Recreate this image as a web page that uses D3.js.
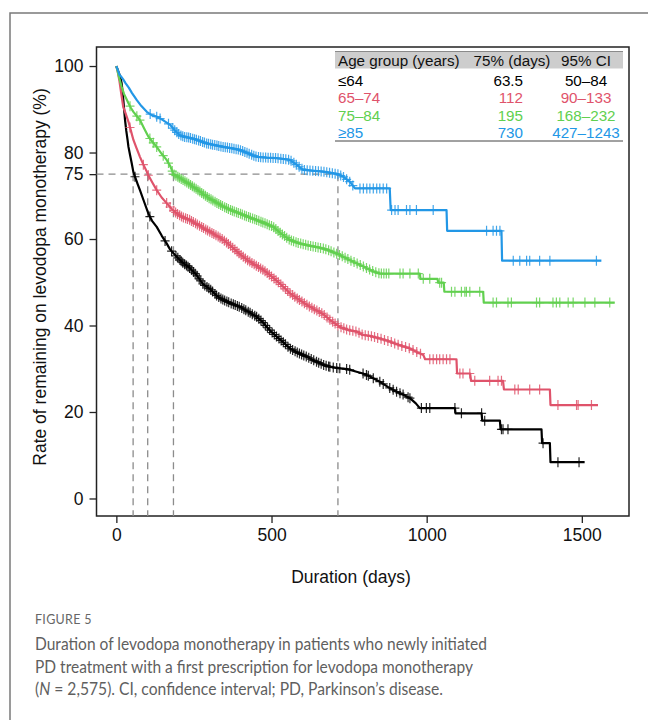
<!DOCTYPE html>
<html>
<head>
<meta charset="utf-8">
<script src="https://cdn.jsdelivr.net/npm/d3@7"></script>
<style>
  html, body { margin: 0; padding: 0; background: #fff; }
  svg { display: block; }
</style>
</head>
<body>
<svg id="chart" width="648" height="720"></svg>
<script>
// ---------------- DATA ----------------
const groups = ["≤64", "65–74", "75–84", "≥85"];
const groupColors = ["#000000", "#DF536B", "#61D04F", "#2297E6"];
const days75 = ["63.5", "112", "195", "730"];
const ci95 = ["50–84", "90–133", "168–232", "427–1243"];
const tableHeader = ["Age group (years)", "75% (days)", "95% CI"];

const xTicks = [0, 500, 1000, 1500];
const yTicks = [0, 20, 40, 60, 75, 80, 100];
// where each curve crosses 75% (as drawn)
const cross75 = [54, 101, 184, 714];

// KM curve knots [day, %]
const curveLe64 = [[0,100],[5,99],[10,98],[14,97],[17,96],[20,94],[22.5,92.1],[25,90],[28,87.5],[32,85],[36,83],[39,81.3],[44,79.5],[49.5,77.5],[55,75.4],[60,74.4],[68,72.8],[76,71.3],[90,68.5],[103,65.9],[115,64.2],[130,62.8],[146,60.8],[162,59],[173,57.6],[184,56.7],[200,55.5],[216,54.4],[238,53.2],[259,51.6],[280,49.5],[302,48.4],[325,46.8],[345,45.9],[370,45.1],[398,44.3],[425,43.2],[452,42],[470,40.9],[484,39.7],[500,38.5],[517,37.4],[540,36],[559,34.7],[585,33.7],[613,32.8],[640,31.8],[667,30.9],[690,30.4],[720,30.1],[745,29.9],[774,29.3],[795,28.9],[817,28.2],[849,27],[875,25.8],[903,24.7],[925,24],[946,23.2],[965,22],[978,20.9],[1091,20.9],[1093,19.7],[1177,19.7],[1179,18],[1236,18],[1238,16],[1370,16],[1372,12.8],[1397,12.8],[1399,8.4],[1509,8.4]];
const curve65 = [[0,100],[5,98.5],[10,96.5],[15,94],[22,90.6],[30,89],[39,87.1],[47,85],[55,82.9],[65,81],[76,79],[87,77.2],[98,75.6],[101,75],[115,73.2],[130,71.3],[146,69.6],[162,68.3],[178,67],[195,65.9],[215,65],[237,64.4],[265,63.2],[291,62.1],[318,61],[345,59.8],[372,58.2],[398,56.5],[425,55],[452,53.8],[480,52.5],[506,51],[530,49.5],[559,47.5],[592,45.8],[620,44.5],[645,43.5],[667,42.6],[690,41.2],[720,39.7],[745,39],[774,38.6],[795,37.8],[817,37.6],[849,37],[881,36.3],[910,35.5],[946,34.7],[970,33.8],[989,33.2],[995,32.2],[1096,32.2],[1098,28.9],[1140,28.9],[1143,27.2],[1246,27.2],[1249,25.2],[1397,25.2],[1399,21.6],[1552,21.6]];
const curve75 = [[0,100],[5,98.5],[10,97],[17,95.2],[25,93.5],[39,91.4],[47,90.3],[55,89.4],[65,88.5],[76,87.5],[90,85.5],[103,83.7],[116,82.5],[130,81.3],[146,79.7],[162,78.3],[174,76.8],[184,75],[200,74.3],[218,73.5],[237,72.6],[265,71.2],[291,69.8],[318,68.6],[345,67.5],[372,66.6],[398,65.9],[425,65.1],[452,64.4],[480,63.6],[506,62.8],[530,61.3],[559,59.8],[585,59.1],[613,58.6],[640,58.2],[667,57.8],[688,57.3],[720,56.3],[753,55.1],[774,54.4],[800,53.5],[825,52.6],[849,52],[978,52],[980,50.8],[1035,50.8],[1037,49.9],[1055,49.9],[1057,47.8],[1182,47.8],[1184,45.3],[1606,45.3]];
const curve85 = [[0,100],[5,99],[10,98],[16,97.5],[22,96.9],[30,96],[40,95],[50,93.8],[66,92.1],[80,90.8],[98,89.4],[115,88.6],[130,88.3],[150,87.5],[173,86.4],[190,85],[205,84],[220,83.6],[237,83.4],[265,82.8],[291,82.1],[318,81.7],[344,81.3],[370,81],[398,80.6],[425,79.8],[452,79],[485,78.8],[517,78.7],[540,78.5],[559,78.3],[580,77.2],[602,76],[630,75.8],[666,75.6],[690,75.3],[714,75],[731,74.4],[753,73.2],[769,71.7],[881,71.7],[884,66.7],[1064,66.7],[1066,61.9],[1241,61.9],[1243,55],[1563,55]];

// censoring times (days)
const censLe64 = [60,108,157,178,192,198,205,209,214,220,226,231,236,243,249,254,260,267,272,279,285,292,298,304,310,318,323,330,337,343,349,356,362,370,377,383,390,396,404,411,417,425,431,438,446,452,459,466,473,480,487,494,502,509,516,524,531,538,545,553,561,568,576,583,590,597,604,612,620,628,636,645,652,660,668,676,684,688,699,710,720,742,752,795,806,812,828,849,860,881,892,903,914,924,940,946,983,999,1010,1091,1112,1177,1187,1241,1246,1262,1375,1423,1491];
const cens65 = [44,87,103,130,162,173,185,191,197,204,210,216,223,229,236,242,248,255,261,268,275,281,288,294,301,308,314,321,328,334,341,348,355,361,368,375,382,389,395,402,409,416,423,430,437,444,451,458,465,472,479,486,493,500,508,515,522,530,537,545,552,560,568,575,583,590,598,606,614,622,630,638,646,654,662,670,679,688,697,705,714,724,733,742,752,762,772,782,792,802,812,822,832,842,853,864,875,886,897,908,920,932,944,956,968,980,1010,1021,1032,1042,1053,1064,1075,1107,1117,1139,1155,1203,1230,1241,1284,1295,1332,1364,1423,1483,1488,1531];
const cens75 = [44,66,76,108,119,130,151,168,180,186,192,198,203,209,215,221,227,233,239,245,251,257,263,269,275,281,287,293,299,305,311,318,324,330,336,342,349,355,361,368,374,380,387,393,400,406,413,419,426,432,439,446,452,459,466,472,479,486,493,500,507,514,521,528,535,542,549,557,564,571,579,586,594,602,610,618,626,634,642,650,658,667,675,684,692,701,710,719,728,737,746,756,766,776,786,796,806,816,826,836,846,854,862,870,878,914,924,946,973,989,1010,1042,1048,1080,1091,1112,1123,1128,1139,1171,1214,1225,1262,1273,1354,1364,1407,1418,1429,1456,1472,1510,1542,1590];
const cens85 = [109,130,141,168,182,188,195,201,208,214,220,227,233,239,246,252,258,265,271,278,284,291,297,304,310,317,324,330,337,344,351,358,365,372,379,386,393,400,407,414,421,428,436,443,450,458,465,473,481,489,497,505,513,521,530,538,546,555,563,572,580,589,598,606,615,624,633,642,651,660,669,678,687,696,705,714,723,732,742,752,762,785,796,807,817,828,839,849,860,871,887,898,908,935,946,967,1021,1193,1214,1225,1236,1279,1300,1322,1332,1364,1397,1547];

const curves = [curveLe64, curve65, curve75, curve85];
const censors = [censLe64, cens65, cens75, cens85];

const yTitle = "Rate of remaining on levodopa monotherapy (%)";
const xTitle = "Duration (days)";
const figLabel = "FIGURE 5";

// ---------------- DRAW ----------------
const svg = d3.select("#chart");
const AX = "'Liberation Sans', Arial, Helvetica, sans-serif";

// outer figure frame (top and left edges)
svg.append("path").attr("d", "M10,720 L10,13 L648,13")
  .attr("fill", "none").attr("stroke", "#7a7a7a").attr("stroke-width", 1.5);

const box = { l: 96.5, r: 629, t: 47, b: 516 };
const x = d3.scaleLinear().domain([-64, 1652]).range([box.l, box.r]);
const y = d3.scaleLinear().domain([-4.05, 104.4]).range([box.b, box.t]);

// axes
const xAxis = svg.append("g").attr("transform", `translate(0,${box.b})`)
  .call(d3.axisBottom(x).tickValues(xTicks).tickSize(7).tickPadding(4).tickFormat(d3.format("d")));
const yAxis = svg.append("g").attr("transform", `translate(${box.l},0)`)
  .call(d3.axisLeft(y).tickValues(yTicks).tickSize(7).tickPadding(6).tickFormat(d3.format("d")));
[xAxis, yAxis].forEach(g => {
  g.select(".domain").remove();
  g.selectAll(".tick line").attr("stroke", "#222").attr("stroke-width", 1.3);
  g.selectAll(".tick text").attr("fill", "#111").style("font-family", AX).style("font-size", "17.5px");
});
xAxis.selectAll(".tick text").attr("dy", "0.78em");

// plot box
svg.append("rect").attr("x", box.l).attr("y", box.t)
  .attr("width", box.r - box.l).attr("height", box.b - box.t)
  .attr("fill", "none").attr("stroke", "#222").attr("stroke-width", 1.5);

// axis titles
svg.append("text").attr("x", 351).attr("y", 583).attr("text-anchor", "middle")
  .style("font-family", AX).style("font-size", "17.5px").attr("fill", "#111").text(xTitle);
svg.append("text").attr("transform", "translate(46,277) rotate(-90)").attr("text-anchor", "middle")
  .style("font-family", AX).style("font-size", "17.5px").attr("fill", "#111").text(yTitle);

// reference dashed lines at 75%
const dashG = svg.append("g").attr("stroke", "#8c8c8c").attr("stroke-width", 1.3)
  .attr("stroke-dasharray", "7,5").attr("fill", "none");
dashG.append("line").attr("x1", box.l).attr("x2", x(d3.max(cross75)))
  .attr("y1", y(75)).attr("y2", y(75));
dashG.selectAll("line.v").data(cross75).enter().append("line").attr("class", "v")
  .attr("x1", d => x(d)).attr("x2", d => x(d)).attr("y1", y(75)).attr("y2", box.b);

// curves
const line = d3.line().x(d => x(d[0])).y(d => y(d[1])).curve(d3.curveLinear);
const bis = d3.bisector(d => d[0]).right;
function survAt(k, t) {
  const i = bis(k, t);
  if (i <= 0) return k[0][1];
  if (i >= k.length) return k[k.length - 1][1];
  const a = k[i - 1], b = k[i];
  return a[1] + (b[1] - a[1]) * (t - a[0]) / (b[0] - a[0]);
}

curves.forEach((k, gi) => {
  const col = groupColors[gi];
  const g = svg.append("g");
  g.append("path").datum(k).attr("d", line).attr("fill", "none")
    .attr("stroke", col).attr("stroke-width", 2.2).attr("stroke-linejoin", "round");
  g.selectAll("path.c").data(censors[gi]).enter().append("path").attr("class", "c")
    .attr("d", t => {
      const px = x(t), py = y(survAt(k, t));
      return `M${px - 4.5},${py}H${px + 4.5}M${px},${py - 5}V${py + 5}`;
    })
    .attr("stroke", col).attr("stroke-width", 1.2).attr("fill", "none").attr("opacity", 0.85);
});

// legend table
const tb = svg.append("g").style("font-family", AX).style("font-size", "15.2px");
tb.append("rect").attr("x", 335).attr("y", 51.5).attr("width", 288).attr("height", 17)
  .attr("fill", "#cdcdcd");
tb.append("line").attr("x1", 335).attr("x2", 623).attr("y1", 51.5).attr("y2", 51.5)
  .attr("stroke", "#8a8a8a").attr("stroke-width", 1);
tb.append("line").attr("x1", 335).attr("x2", 623).attr("y1", 141).attr("y2", 141)
  .attr("stroke", "#444").attr("stroke-width", 1);
tb.append("text").attr("x", 338).attr("y", 65.5).attr("fill", "#111").text(tableHeader[0]);
tb.append("text").attr("x", 512).attr("y", 65.5).attr("text-anchor", "middle").attr("fill", "#111").text(tableHeader[1]);
tb.append("text").attr("x", 586).attr("y", 65.5).attr("text-anchor", "middle").attr("fill", "#111").text(tableHeader[2]);
const rowY = [85.5, 103, 120.5, 137.5];
groups.forEach((gname, i) => {
  const col = groupColors[i];
  tb.append("text").attr("x", 338).attr("y", rowY[i]).attr("fill", col).text(gname);
  tb.append("text").attr("x", 523).attr("y", rowY[i]).attr("text-anchor", "end").attr("fill", col).text(days75[i]);
  tb.append("text").attr("x", 586).attr("y", rowY[i]).attr("text-anchor", "middle").attr("fill", col).text(ci95[i]);
});

// caption
const CAP = "Lato, 'Open Sans', 'Noto Sans', sans-serif";
svg.append("text").attr("x", 35).attr("y", 624).attr("fill", "#666")
  .style("font-family", CAP).style("font-size", "12.5px").style("letter-spacing", "0.3px").text(figLabel);
const capLines = [
  { y: 650, w: 452, parts: [["Duration of levodopa monotherapy in patients who newly initiated", false]] },
  { y: 672.5, w: 438, parts: [["PD treatment with a first prescription for levodopa monotherapy", false]] },
  { y: 695, w: 408, parts: [["(", false], ["N", true], [" = 2,575). CI, confidence interval; PD, Parkinson’s disease.", false]] }
];
capLines.forEach(l => {
  const t = svg.append("text").attr("x", 35).attr("y", l.y).attr("fill", "#5f5f5f")
    .style("font-family", CAP).style("font-size", "16.5px")
    .attr("textLength", l.w).attr("lengthAdjust", "spacingAndGlyphs");
  l.parts.forEach(p => t.append("tspan").style("font-style", p[1] ? "italic" : "normal").text(p[0]));
});
</script>
</body>
</html>
